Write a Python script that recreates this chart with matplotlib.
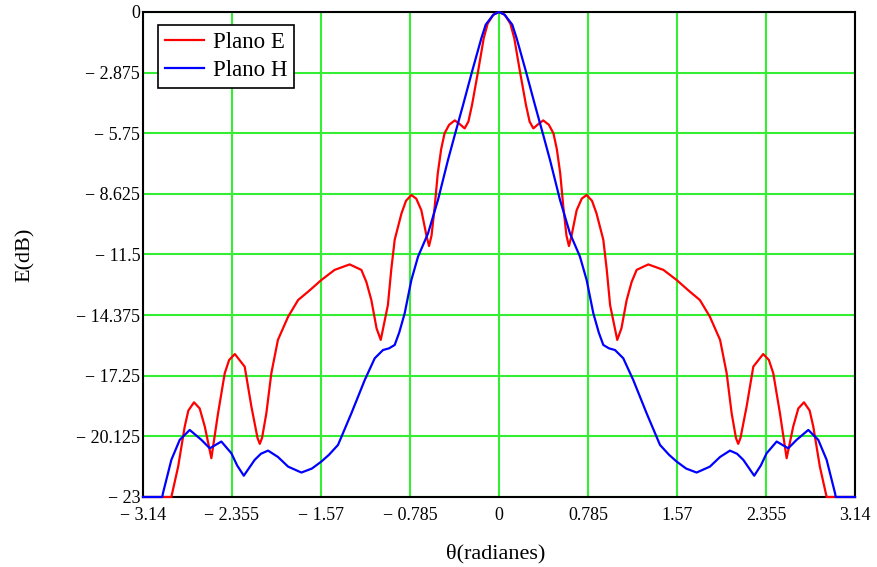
import numpy as np
import matplotlib.pyplot as plt

# Diagrama de radiacion (Plano E y Plano H)
theta_E = [-3.14, -2.89, -2.83, -2.772, -2.74, -2.69, -2.64, -2.595, -2.537, -2.478,
           -2.419, -2.38, -2.33, -2.243, -2.184, -2.13, -2.11, -2.09, -2.052, -2.008,
           -1.95, -1.86, -1.772, -1.67, -1.567, -1.45, -1.317, -1.214, -1.17, -1.126,
           -1.08, -1.043, -0.98, -0.95, -0.92, -0.86, -0.82, -0.773, -0.73, -0.685,
           -0.64, -0.617, -0.595, -0.567, -0.54, -0.51, -0.48, -0.44, -0.39, -0.35,
           -0.303, -0.27, -0.238, -0.185, -0.135, -0.1, -0.05,
           0.0,
           0.05, 0.1, 0.135, 0.185, 0.238, 0.27, 0.303, 0.35, 0.39, 0.44,
           0.48, 0.51, 0.54, 0.567, 0.595, 0.617, 0.64, 0.685, 0.73, 0.773,
           0.82, 0.86, 0.92, 0.95, 0.98, 1.043, 1.08, 1.126, 1.17, 1.214,
           1.317, 1.45, 1.567, 1.67, 1.772, 1.86, 1.95, 2.008, 2.052, 2.09,
           2.11, 2.13, 2.184, 2.243, 2.33, 2.38, 2.419, 2.478, 2.537, 2.595,
           2.64, 2.69, 2.74, 2.772, 2.83, 2.89, 3.14]
plano_E = [-23.0, -23.0, -21.56, -19.66, -18.9, -18.51, -18.8, -19.66, -21.16, -19.03,
           -17.13, -16.5, -16.22, -16.82, -18.71, -20.2, -20.48, -20.2, -19.03, -17.13,
           -15.55, -14.45, -13.66, -13.2, -12.71, -12.23, -11.97, -12.23, -12.8, -13.66,
           -15.0, -15.55, -13.9, -12.2, -10.8, -9.55, -8.95, -8.68, -8.85, -9.4,
           -10.6, -11.1, -10.6, -9.23, -7.65, -6.5, -5.75, -5.35, -5.14, -5.3,
           -5.52, -5.2, -4.41, -2.83, -1.25, -0.55, -0.13,
           0.0,
           -0.13, -0.55, -1.25, -2.83, -4.41, -5.2, -5.52, -5.3, -5.14, -5.35,
           -5.75, -6.5, -7.65, -9.23, -10.6, -11.1, -10.6, -9.4, -8.85, -8.68,
           -8.95, -9.55, -10.8, -12.2, -13.9, -15.55, -15.0, -13.66, -12.8, -12.23,
           -11.97, -12.23, -12.71, -13.2, -13.66, -14.45, -15.55, -17.13, -19.03, -20.2,
           -20.48, -20.2, -18.71, -16.82, -16.22, -16.5, -17.13, -19.03, -21.16, -19.66,
           -18.8, -18.51, -18.9, -19.66, -21.56, -23.0, -23.0]

theta_H = [-3.14, -2.97, -2.963, -2.89, -2.816, -2.728, -2.625, -2.551, -2.449, -2.36,
           -2.31, -2.251, -2.155, -2.1, -2.037, -1.95, -1.86, -1.743, -1.65, -1.567,
           -1.5, -1.42, -1.302, -1.184, -1.096, -1.023, -0.97, -0.92, -0.88, -0.832,
           -0.773, -0.714, -0.626, -0.538, -0.45, -0.39, -0.317, -0.238, -0.156, -0.117,
           -0.05,
           0.0,
           0.05, 0.117, 0.156, 0.238, 0.317, 0.39, 0.45, 0.538, 0.626, 0.714,
           0.773, 0.832, 0.88, 0.92, 0.97, 1.023, 1.096, 1.184, 1.302, 1.42,
           1.5, 1.567, 1.65, 1.743, 1.86, 1.95, 2.037, 2.1, 2.155, 2.251,
           2.31, 2.36, 2.449, 2.551, 2.625, 2.728, 2.816, 2.89, 2.963, 2.97,
           3.14]
plano_H = [-23.0, -23.0, -22.8, -21.24, -20.29, -19.82, -20.29, -20.69, -20.37, -20.93,
           -21.5, -21.99, -21.24, -20.95, -20.8, -21.1, -21.56, -21.84, -21.65, -21.32,
           -21.0, -20.53, -19.03, -17.45, -16.42, -16.03, -15.95, -15.79, -15.2, -14.29,
           -12.71, -11.6, -10.5, -8.91, -7.02, -5.83, -4.41, -2.83, -1.25, -0.6,
           -0.13,
           0.0,
           -0.13, -0.6, -1.25, -2.83, -4.41, -5.83, -7.02, -8.91, -10.5, -11.6,
           -12.71, -14.29, -15.2, -15.79, -15.95, -16.03, -16.42, -17.45, -19.03, -20.53,
           -21.0, -21.32, -21.65, -21.84, -21.56, -21.1, -20.8, -20.95, -21.24, -21.99,
           -21.5, -20.93, -20.37, -20.69, -20.29, -19.82, -20.29, -21.24, -22.8, -23.0,
           -23.0]

xticks = [-3.14, -2.355, -1.57, -0.785, 0, 0.785, 1.57, 2.355, 3.14]
yticks = [0, -2.875, -5.75, -8.625, -11.5, -14.375, -17.25, -20.125, -23]


def etiqueta(v):
    # estilo Mathcad: signo menos separado del numero
    if v == 0:
        return '0'
    s = ('%g' % abs(v))
    return ('\u2212 ' + s) if v < 0 else s


plt.rcParams['font.family'] = ['Liberation Serif', 'DejaVu Serif']

fig = plt.figure(figsize=(8.77, 5.67), dpi=100)
ax = fig.add_axes([143/877, 70/567, 712/877, 485/567])

ax.plot(theta_E, plano_E, color='#ff0000', lw=1.6, label='Plano E', clip_on=False, zorder=3)
ax.plot(theta_H, plano_H, color='#0000ff', lw=1.6, label='Plano H', clip_on=False, zorder=3)

ax.set_xlim(-3.14, 3.14)
ax.set_ylim(-23, 0)
ax.set_xticks(xticks)
ax.set_xticklabels([etiqueta(v) for v in xticks], fontsize=13)
ax.set_yticks(yticks)
ax.set_yticklabels([etiqueta(v) for v in yticks], fontsize=13)
ax.tick_params(length=0, pad=2)
ax.tick_params(axis='x', pad=7)
ax.grid(True, color='#33ee33', lw=1.5)
ax.set_axisbelow(True)
for sp in ax.spines.values():
    sp.set_color('black')
    sp.set_linewidth(1.5)

fig.text(25/877, 1 - 255/567, 'E(dB)', rotation=90, ha='center', va='center', fontsize=16)
fig.text(496/877, 1 - 554/567, '\u03b8(radianes)', ha='center', va='center', fontsize=16)

leg = ax.legend(loc='upper left', bbox_to_anchor=(15/712, 1 - 13/485), fontsize=16.5,
                frameon=True, fancybox=False, borderaxespad=0, handlelength=1.7,
                handletextpad=0.4, borderpad=0.3, labelspacing=0.3)
leg.get_frame().set_edgecolor('black')
leg.get_frame().set_linewidth(1.2)
leg.get_frame().set_alpha(1)

fig.savefig('out.png', dpi=100)
